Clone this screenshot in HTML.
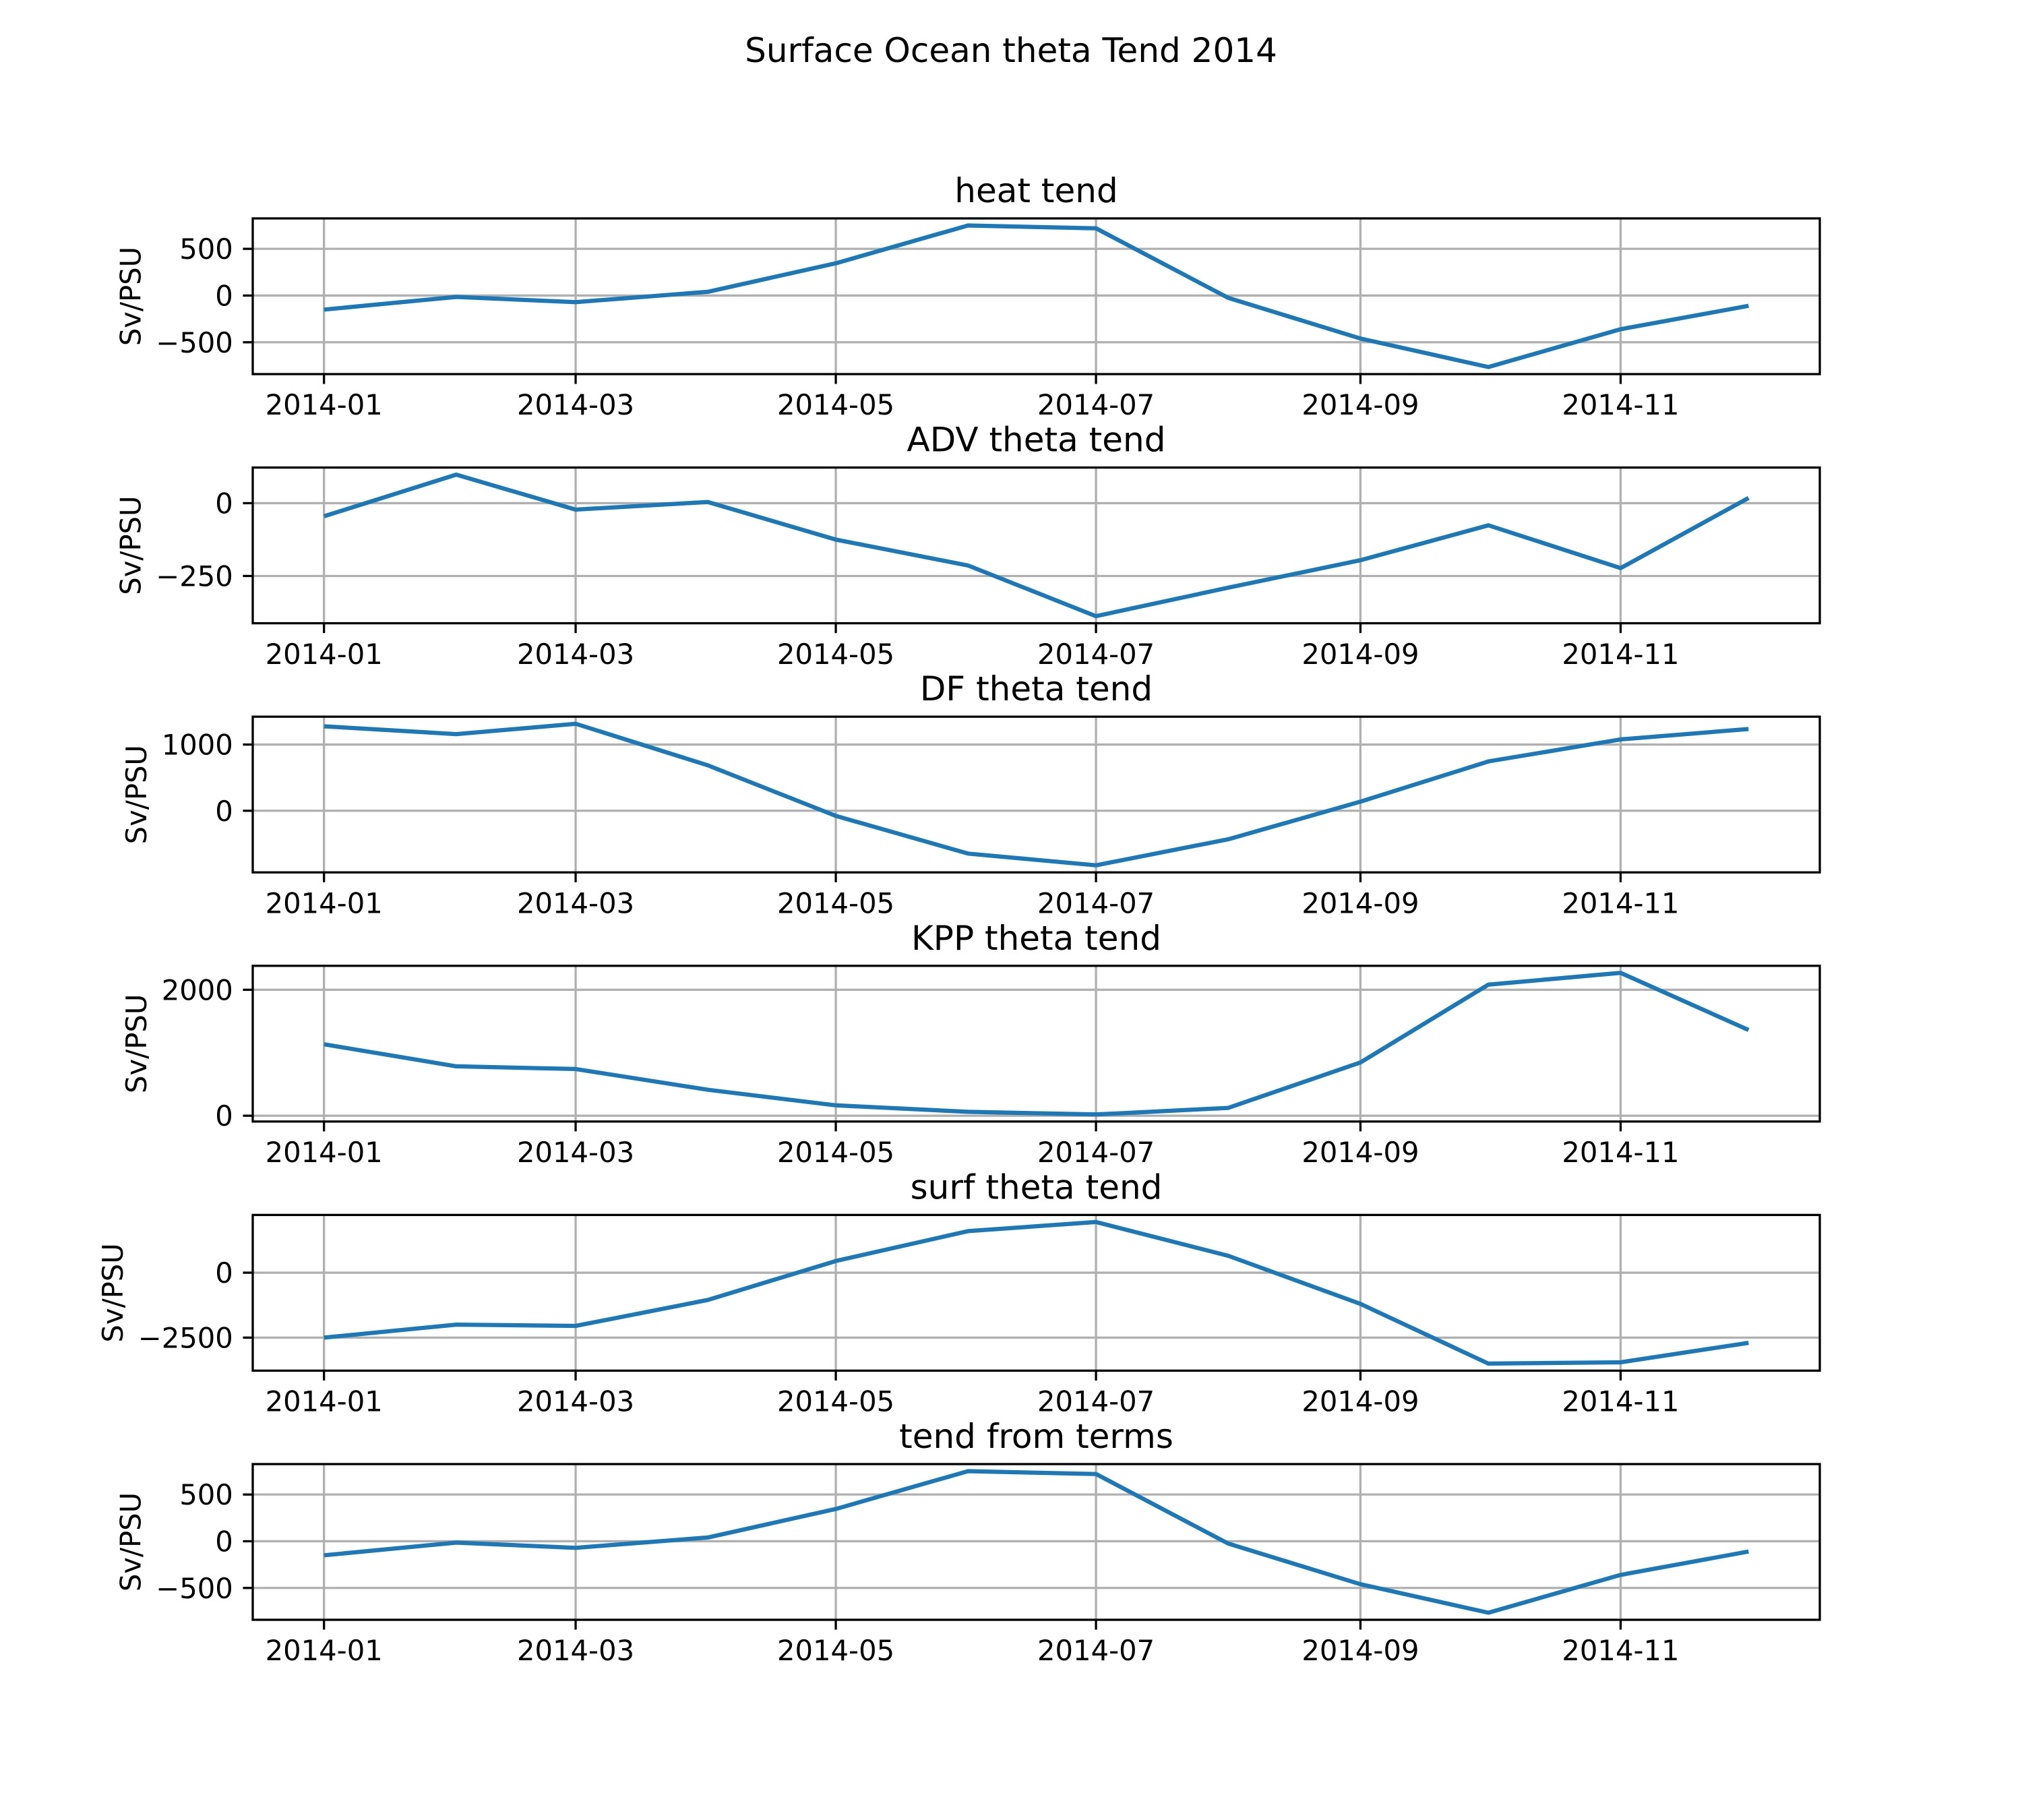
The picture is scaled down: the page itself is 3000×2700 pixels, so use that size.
<!DOCTYPE html>
<html><head><meta charset="utf-8"><style>
html,body{margin:0;padding:0;background:#fff;}
svg{display:block;font-family:"DejaVu Sans","Liberation Sans",sans-serif;}
</style></head><body>
<svg id="fig" width="3000" height="2700" viewBox="0 0 3000 2700" xmlns="http://www.w3.org/2000/svg">
<rect width="3000" height="2700" fill="#fff"/>
<text x="1500" y="92" font-size="50" text-anchor="middle">Surface Ocean theta Tend 2014</text>
</svg>
<script>
// Data
const monthDays = [0,31,59,90,120,151,181,212,243,273,304,334];
const xTickDays = [0,59,120,181,243,304];
const xTickLabels = ["2014-01","2014-03","2014-05","2014-07","2014-09","2014-11"];
const panelTitles = ["heat tend","ADV theta tend","DF theta tend","KPP theta tend","surf theta tend","tend from terms"];
const heatTend = [-150,-15,-70,40,345,750,720,-25,-460,-765,-360,-110];
const advTend = [-45,98,-22,4,-125,-214,-388,-290,-196,-76,-223,18];
const dfTend = [1275,1157,1314,686,-78,-647,-824,-431,137,745,1078,1235];
const kppTend = [1134,784,742,412,165,62,20,124,845,2082,2268,1361];
const surfTend = [-2500,-2000,-2050,-1050,450,1600,1950,650,-1200,-3500,-3450,-2700];
const termsTend = [-150,-15,-70,40,345,750,720,-25,-460,-765,-360,-110];
const yTicks1 = [-500,0,500];
const yTicks2 = [-250,0];
const yTicks3 = [0,1000];
const yTicks4 = [0,2000];
const yTicks5 = [-2500,0];
const yTicks6 = [-500,0,500];

const seriesList = [heatTend,advTend,dfTend,kppTend,surfTend,termsTend];
const tickList = [yTicks1,yTicks2,yTicks3,yTicks4,yTicks5,yTicks6];
const NS = "http://www.w3.org/2000/svg";
const svg = document.getElementById('fig');
const L = 375, R = 2700, H = 231, GAP = 138.6, TOP = 324;
const xMin = -16.7, xMax = 350.7;
function mk(tag, attrs, parent){const e=document.createElementNS(NS,tag);for(const k in attrs)e.setAttribute(k,attrs[k]);(parent||svg).appendChild(e);return e;}
function fmt(v){return v<0?"\u2212"+Math.abs(v):String(v);}
const xScale = d => L + (d - xMin)/(xMax - xMin)*(R - L);

seriesList.forEach((vals, i) => {
  const top = TOP + i*(H+GAP), bot = top + H;
  const mn = Math.min(...vals), mx = Math.max(...vals), r = mx - mn;
  const y0 = mn - 0.05*r, y1 = mx + 0.05*r;
  const yScale = v => bot - (v - y0)/(y1 - y0)*H;
  const g = mk('g', {});
  
  
  xTickDays.forEach(d => {
    const x = xScale(d);
    const gl = mk('line', {x1:x,x2:x,y1:top,y2:bot,stroke:'#b0b0b0','stroke-width':3.3}, g);
    
    
  });
  tickList[i].forEach(v => {
    const y = yScale(v);
    const gl = mk('line', {x1:L,x2:R,y1:y,y2:y,stroke:'#b0b0b0','stroke-width':3.3}, g);
    
    
  });
  const pts = vals.map((v,k) => xScale(monthDays[k]).toFixed(1)+','+yScale(v).toFixed(1)).join(' ');
  const pl = mk('polyline', {points:pts, fill:'none', stroke:'#1f77b4','stroke-width':6.25,'stroke-linejoin':'round','stroke-linecap':'butt'}, g);
  
  
  const fr = mk('rect', {x:L,y:top,width:R-L,height:H,fill:'none',stroke:'#000','stroke-width':3.3}, g);
  
  
  xTickDays.forEach((d,k) => {
    const x = xScale(d);
    const t = mk('line', {x1:x,x2:x,y1:bot,y2:bot+14.6,stroke:'#000','stroke-width':3.3}, g);
    
    
    const tl = mk('text', {x:x,y:bot+14.6+14.6+31,'font-size':41.7,'text-anchor':'middle'}, g);
    
    
    tl.textContent = xTickLabels[k];
  });
  let maxW = 0;
  tickList[i].forEach(v => {
    const y = yScale(v);
    const t = mk('line', {x1:L-14.6,x2:L,y1:y,y2:y,stroke:'#000','stroke-width':3.3}, g);
    
    
    const tl = mk('text', {x:L-14.6-14.6,y:y+15,'font-size':41.7,'text-anchor':'end'}, g);
    
    
    tl.textContent = fmt(v);
    maxW = Math.max(maxW, tl.getComputedTextLength());
  });
  const lx = L - 29.2 - maxW - 16.7 - 6;
  const yl = mk('text', {x:lx,y:(top+bot)/2,'font-size':41.7,'text-anchor':'middle',transform:`rotate(-90 ${lx} ${(top+bot)/2})`}, g);
  
  
  yl.textContent = 'Sv/PSU';
  const tt = mk('text', {x:(L+R)/2,y:top-24,'font-size':50,'text-anchor':'middle'}, g);
  
  
  tt.textContent = panelTitles[i];
});
</script>
</body></html>
